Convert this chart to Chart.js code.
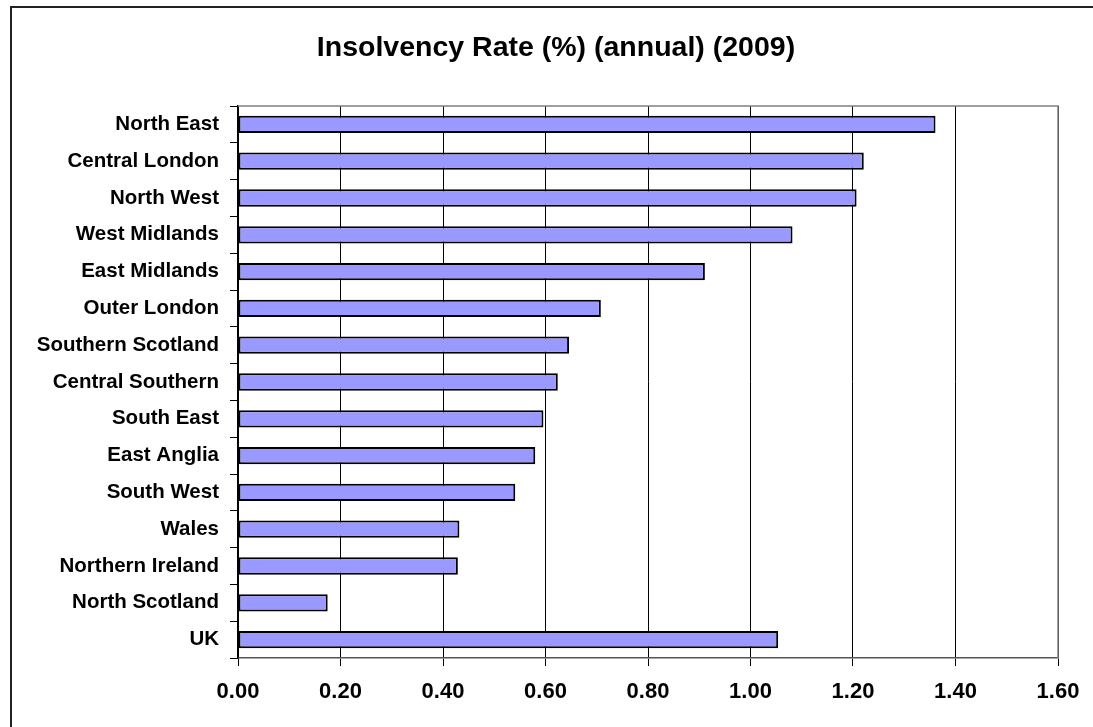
<!DOCTYPE html>
<html>
<head>
<meta charset="utf-8">
<script src="https://cdn.jsdelivr.net/npm/chart.js@4.4.1/dist/chart.umd.min.js"></script>
<style>
  html, body { margin: 0; padding: 0; background: #fff; overflow: hidden; }
  #wrap { position: relative; width: 1093px; height: 727px; }
  #frame { position: absolute; left: 10px; top: 6px; width: 1200px; height: 900px; border: 2px solid #222; box-sizing: border-box; }
  #chart { position: absolute; left: 0; top: 0; }
</style>
</head>
<body>
<div id="wrap">
  <div id="frame"></div>
  <canvas id="chart" width="1093" height="727"></canvas>
</div>
<script>
const regions = ['North East', 'Central London', 'North West', 'West Midlands', 'East Midlands',
    'Outer London', 'Southern Scotland', 'Central Southern', 'South East', 'East Anglia',
    'South West', 'Wales', 'Northern Ireland', 'North Scotland', 'UK'];
const rates = [1.361, 1.221, 1.207, 1.082, 0.911, 0.708, 0.646, 0.624, 0.596, 0.580,
    0.541, 0.432, 0.429, 0.175, 1.054];
const xMin = 0, xMax = 1.6, xStep = 0.2;
const chartTitle = 'Insolvency Rate (%) (annual) (2009)';

const FONT = "'Liberation Sans', Arial, sans-serif";

// top + right edge of the plot area in grey, like the original
const plotFrame = {
    id: 'plotFrame',
    beforeDatasetsDraw(chart) {
        const a = chart.chartArea, ctx = chart.ctx;
        ctx.save();
        ctx.strokeStyle = '#808080';
        ctx.lineWidth = 1.5;
        ctx.beginPath();
        ctx.moveTo(a.left, a.top);
        ctx.lineTo(a.right, a.top);
        ctx.lineTo(a.right, a.bottom);
        ctx.stroke();
        ctx.restore();
    }
};

// title is centred on the whole frame, not on the plot, so draw it by hand
const frameTitle = {
    id: 'frameTitle',
    afterDraw(chart) {
        const ctx = chart.ctx;
        ctx.save();
        ctx.fillStyle = '#000';
        ctx.font = `bold 28.5px ${FONT}`;
        ctx.textAlign = 'center';
        ctx.textBaseline = 'alphabetic';
        ctx.fillText(chartTitle, 556, 56);
        ctx.restore();
    }
};

new Chart(document.getElementById('chart'), {
    type: 'bar',
    data: {
        labels: regions,
        datasets: [{
            label: 'Insolvency Rate',
            data: rates,
            backgroundColor: '#9999FF',
            borderColor: '#000',
            borderWidth: 2,
            borderSkipped: false,
            barPercentage: 0.47,
            categoryPercentage: 1
        }]
    },
    options: {
        indexAxis: 'y',
        responsive: false,
        animation: false,
        layout: { padding: { left: 0, right: 35, top: 106, bottom: 0 } },
        plugins: {
            legend: { display: false },
            tooltip: { enabled: false },
            title: { display: false }
        },
        scales: {
            x: {
                min: xMin, max: xMax,
                ticks: {
                    stepSize: xStep,
                    color: '#000',
                    padding: 13,
                    font: { family: FONT, size: 22, weight: 'bold' },
                    callback: v => Number(v).toFixed(2)
                },
                grid: { color: '#000', lineWidth: 1, tickLength: 8 },
                border: { color: '#555', width: 1.5 },
                afterFit: s => { s.height = 69; }
            },
            y: {
                ticks: {
                    color: '#000',
                    padding: 11,
                    font: { family: FONT, size: 20.5, weight: 'bold' }
                },
                grid: { display: true, drawOnChartArea: false, offset: true, color: '#000', tickLength: 8 },
                border: { color: '#000', width: 1.5 },
                afterFit: s => { s.width = 238; }
            }
        }
    },
    plugins: [plotFrame, frameTitle]
});
</script>
</body>
</html>
